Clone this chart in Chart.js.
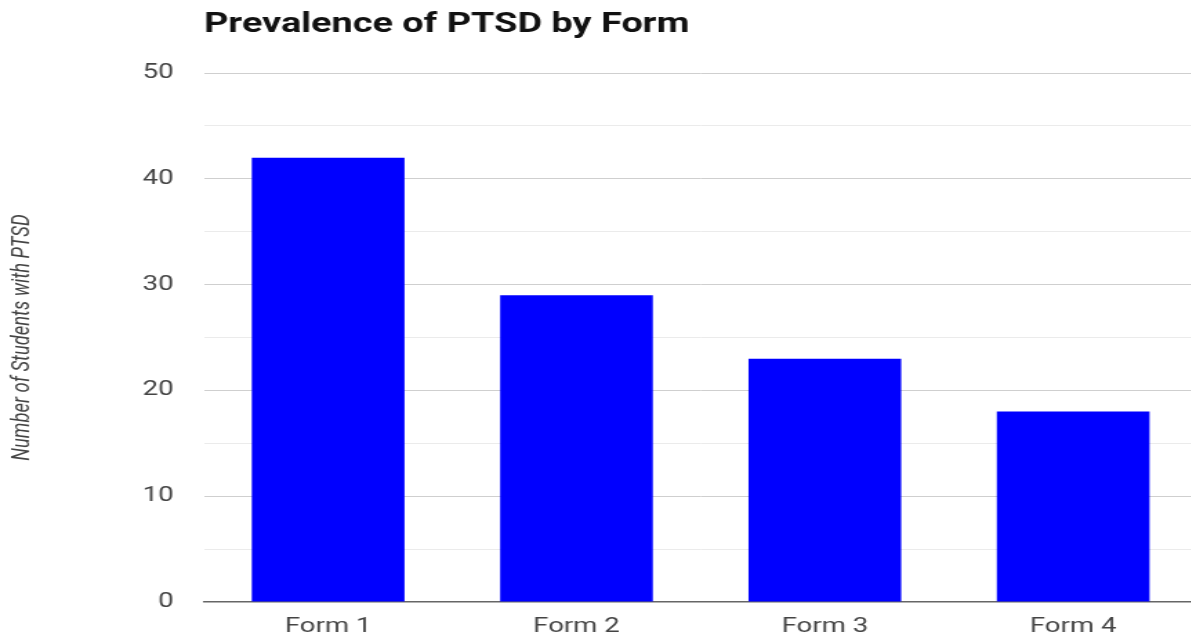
<!DOCTYPE html>
<html>
<head>
<meta charset="utf-8">
<script src="https://cdn.jsdelivr.net/npm/chart.js@4.4.1/dist/chart.umd.min.js"></script>
<style>
  html, body { margin: 0; padding: 0; background: #ffffff; overflow: hidden; }
  /* The chart is laid out on a narrower canvas and stretched sideways. */
  #wrap {
    position: absolute; left: 0; top: 0;
    width: 867px; height: 638px;
    transform: scaleX(1.381); transform-origin: 0 0;
  }
</style>
</head>
<body>
<div id="wrap"><canvas id="chart"></canvas></div>
<script>
const categories = ['Form 1', 'Form 2', 'Form 3', 'Form 4'];
const students = [42, 29, 23, 18];
const yMin = 0;
const yMax = 50;
const yStep = 5;          // minor gridlines every 5, labels every 10
const yLabelEvery = 10;

new Chart(document.getElementById('chart'), {
  type: 'bar',
  data: {
    labels: categories,
    datasets: [{
      label: 'Number of Students with PTSD',
      data: students,
      backgroundColor: '#0000ff',
      borderWidth: 0,
      categoryPercentage: 1,
      barPercentage: 0.615
    }]
  },
  options: {
    responsive: true,
    maintainAspectRatio: false,
    animation: false,
    layout: { padding: { left: 5.7, right: 0, top: 0, bottom: -14 } },
    plugins: {
      legend: { display: false },
      tooltip: { enabled: false },
      title: {
        display: true,
        text: 'Prevalence of PTSD by Form',
        align: 'start',
        fullSize: false,
        color: '#111111',
        font: { family: 'Roboto', size: 27.4, weight: 'bold' },
        padding: { top: 9, bottom: 31.2 }
      }
    },
    scales: {
      x: {
        grid: { display: false, drawTicks: false },
        border: { display: true, color: '#666666', width: 1.5 },
        ticks: {
          color: '#444444',
          font: { family: 'Roboto', size: 20 },
          padding: 13,
          maxRotation: 0
        }
      },
      y: {
        min: yMin,
        max: yMax,
        afterFit: (scale) => { scale.width = 142; },
        border: { display: false },
        grid: {
          drawTicks: false,
          lineWidth: 1,
          color: (ctx) => {
            const v = ctx.tick ? ctx.tick.value : null;
            if (v === yMin) return 'rgba(0,0,0,0)';
            return v % yLabelEvery === 0 ? '#cfcfcf' : '#ebebeb';
          }
        },
        ticks: {
          stepSize: yStep,
          color: '#444444',
          font: { family: 'Roboto', size: 20 },
          padding: 22,
          callback: (v) => (v % yLabelEvery === 0 ? String(v) : '')
        },
        title: {
          display: true,
          text: 'Number of Students with PTSD',
          color: '#444444',
          font: { family: 'Roboto', size: 18.4, style: 'italic' },
          padding: { top: 0, bottom: 0 }
        }
      }
    }
  }
});
</script>
</body>
</html>
